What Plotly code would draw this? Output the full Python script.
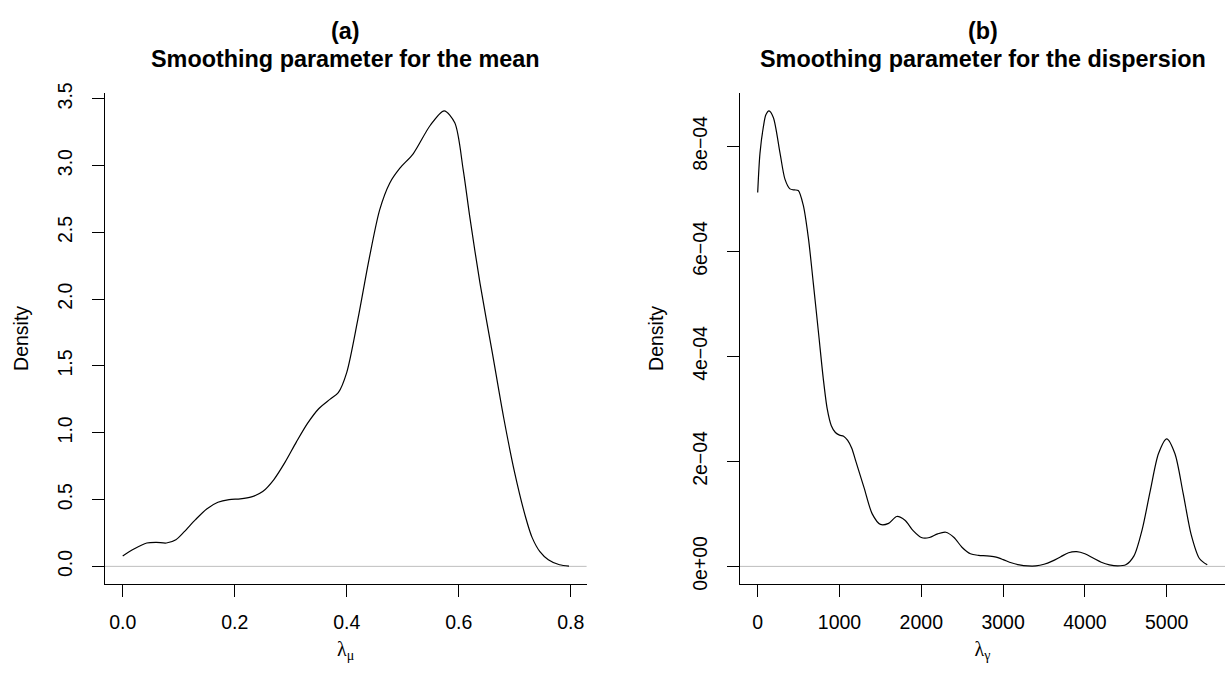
import plotly.graph_objects as go

# ---- Panel (a): smoothing parameter for the mean ----
lam_mu = [0.0, 0.02, 0.043, 0.06, 0.078, 0.095, 0.11, 0.13, 0.15, 0.17, 0.19, 0.21,
          0.23, 0.25, 0.27, 0.29, 0.31, 0.33, 0.35, 0.37, 0.385, 0.40, 0.42, 0.44,
          0.459, 0.477, 0.495, 0.519, 0.549, 0.574, 0.593, 0.608, 0.620, 0.638,
          0.66, 0.68, 0.70, 0.72, 0.731, 0.745, 0.76, 0.78, 0.797]
dens_mu = [0.078, 0.13, 0.175, 0.18, 0.175, 0.20, 0.26, 0.35, 0.43, 0.48, 0.50, 0.505,
           0.52, 0.56, 0.65, 0.78, 0.93, 1.07, 1.18, 1.25, 1.30, 1.45, 1.85, 2.30,
           2.67, 2.87, 2.98, 3.09, 3.30, 3.41, 3.32, 2.97, 2.61, 2.12,
           1.60, 1.12, 0.70, 0.36, 0.217, 0.11, 0.05, 0.012, 0.002]

# ---- Panel (b): smoothing parameter for the dispersion ----
lam_gamma = [0, 28, 69, 100, 138, 191, 273, 334, 394, 450, 496, 557, 619, 680, 750, 800,
             850, 900, 950, 1000, 1050, 1100, 1150, 1200, 1300, 1400, 1500, 1600, 1700,
             1800, 1900, 2000, 2100, 2200, 2300, 2400, 2500, 2600, 2700, 2800, 2900,
             3000, 3100, 3200, 3300, 3400, 3500, 3600, 3700, 3800, 3900, 4000, 4100,
             4200, 4300, 4400, 4500, 4600, 4700, 4800, 4900, 5000, 5100, 5200, 5300,
             5400, 5496]
dens_gamma = [7.12e-4, 7.87e-4, 8.37e-4, 8.60e-4, 8.675e-4, 8.55e-4, 7.87e-4, 7.37e-4,
              7.19e-4, 7.17e-4, 7.16e-4, 6.88e-4, 6.26e-4, 5.39e-4, 4.35e-4, 3.60e-4,
              3.00e-4, 2.68e-4, 2.55e-4, 2.50e-4, 2.48e-4, 2.40e-4, 2.25e-4, 2.00e-4,
              1.50e-4, 1.00e-4, 0.80e-4, 0.82e-4, 0.95e-4, 0.88e-4, 0.68e-4, 0.55e-4,
              0.55e-4, 0.62e-4, 0.65e-4, 0.55e-4, 0.36e-4, 0.24e-4, 0.21e-4, 0.20e-4,
              0.18e-4, 0.13e-4, 0.07e-4, 0.03e-4, 0.01e-4, 0.01e-4, 0.04e-4, 0.10e-4,
              0.18e-4, 0.26e-4, 0.28e-4, 0.24e-4, 0.16e-4, 0.08e-4, 0.03e-4, 0.01e-4,
              0.03e-4, 0.20e-4, 0.70e-4, 1.45e-4, 2.15e-4, 2.43e-4, 2.15e-4, 1.40e-4,
              0.60e-4, 0.15e-4, 0.03e-4]

# ---- tick labels ----
xticks_a = [0.0, 0.2, 0.4, 0.6, 0.8]
xtick_text_a = ["0.0", "0.2", "0.4", "0.6", "0.8"]
yticks_a = [0.0, 0.5, 1.0, 1.5, 2.0, 2.5, 3.0, 3.5]
ytick_text_a = ["0.0", "0.5", "1.0", "1.5", "2.0", "2.5", "3.0", "3.5"]
xticks_b = [0, 1000, 2000, 3000, 4000, 5000]
xtick_text_b = ["0", "1000", "2000", "3000", "4000", "5000"]
yticks_b = [0, 2e-4, 4e-4, 6e-4, 8e-4]
ytick_text_b = ["0e+00", "2e\u221204", "4e\u221204", "6e\u221204", "8e\u221204"]

titles_top = ["(a)", "(b)"]
titles_main = ["Smoothing parameter for the mean", "Smoothing parameter for the dispersion"]
x_titles = ["\u03bb<sub>\u03bc</sub>", "\u03bb<sub>\u03b3</sub>"]

W, H = 1226, 684
FONT = "Liberation Sans, Arial, Helvetica, sans-serif"
TICKSIZE = 19.5
TITLESIZE = 23.4


def px_x(p):
    return p / W


def px_y(p):
    return (H - p) / H


fig = go.Figure()
fig.add_trace(go.Scatter(x=lam_mu, y=dens_mu, mode="lines",
                         line=dict(color="black", width=1.2, shape="spline", smoothing=0.8),
                         xaxis="x", yaxis="y", hoverinfo="skip"))
fig.add_trace(go.Scatter(x=lam_gamma, y=dens_gamma, mode="lines",
                         line=dict(color="black", width=1.2, shape="spline", smoothing=0.8),
                         xaxis="x2", yaxis="y2", hoverinfo="skip"))

for xr, yr in (("x domain", "y"), ("x2 domain", "y2")):
    fig.add_shape(type="line", xref=xr, yref=yr, x0=0, x1=1, y0=0, y1=0,
                  line=dict(color="#BEBEBE", width=1), layer="below")

ydom = [px_y(588), px_y(84.6)]

common_axis = dict(showgrid=False, zeroline=False, showline=True, linecolor="black",
                   linewidth=1, ticks="outside", ticklen=12, tickwidth=1, tickcolor="black",
                   tickfont=dict(family=FONT, size=TICKSIZE, color="black"))
xtitle_font = dict(family="Liberation Serif, serif", size=20, color="black")
ytitle_font = dict(family=FONT, size=TICKSIZE, color="black")

fig.update_layout(
    width=W, height=H, margin=dict(l=0, r=0, t=0, b=0),
    paper_bgcolor="white", plot_bgcolor="white", showlegend=False,
    xaxis=dict(domain=[px_x(104.7), px_x(586.6)], range=[-0.03214, 0.8284],
               tickvals=xticks_a, ticktext=xtick_text_a, anchor="y", ticklabelstandoff=8,
               title=dict(text=x_titles[0], font=xtitle_font, standoff=10),
               **common_axis),
    yaxis=dict(domain=ydom, range=[-0.1338, 3.546], tickvals=yticks_a, ticktext=ytick_text_a,
               anchor="x", tickangle=-90, ticklabelstandoff=12,
               title=dict(text="Density", font=ytitle_font, standoff=20),
               **common_axis),
    xaxis2=dict(domain=[px_x(740), px_x(1225)], range=[-216.4, 5712.7],
                tickvals=xticks_b, ticktext=xtick_text_b, anchor="y2", ticklabelstandoff=8,
                title=dict(text=x_titles[1], font=xtitle_font, standoff=10),
                **common_axis),
    yaxis2=dict(domain=ydom, range=[-0.340e-4, 9.023e-4], tickvals=yticks_b, ticktext=ytick_text_b,
                anchor="x2", tickangle=-90, ticklabelstandoff=12,
                title=dict(text="Density", font=ytitle_font, standoff=20),
                **common_axis),
)

centers = [(px_x(104.7) + px_x(586.6)) / 2, (px_x(740) + px_x(1225)) / 2]
for i, cx in enumerate(centers):
    fig.add_annotation(x=cx, y=px_y(21), xref="paper", yref="paper", showarrow=False,
                       text="<b>%s</b>" % titles_top[i], xanchor="center", yanchor="middle",
                       font=dict(family=FONT, size=TITLESIZE, color="black"))
    fig.add_annotation(x=cx, y=px_y(50), xref="paper", yref="paper", showarrow=False,
                       text="<b>%s</b>" % titles_main[i], xanchor="center", yanchor="middle",
                       font=dict(family=FONT, size=TITLESIZE, color="black"))

fig.write_html("out.html")
